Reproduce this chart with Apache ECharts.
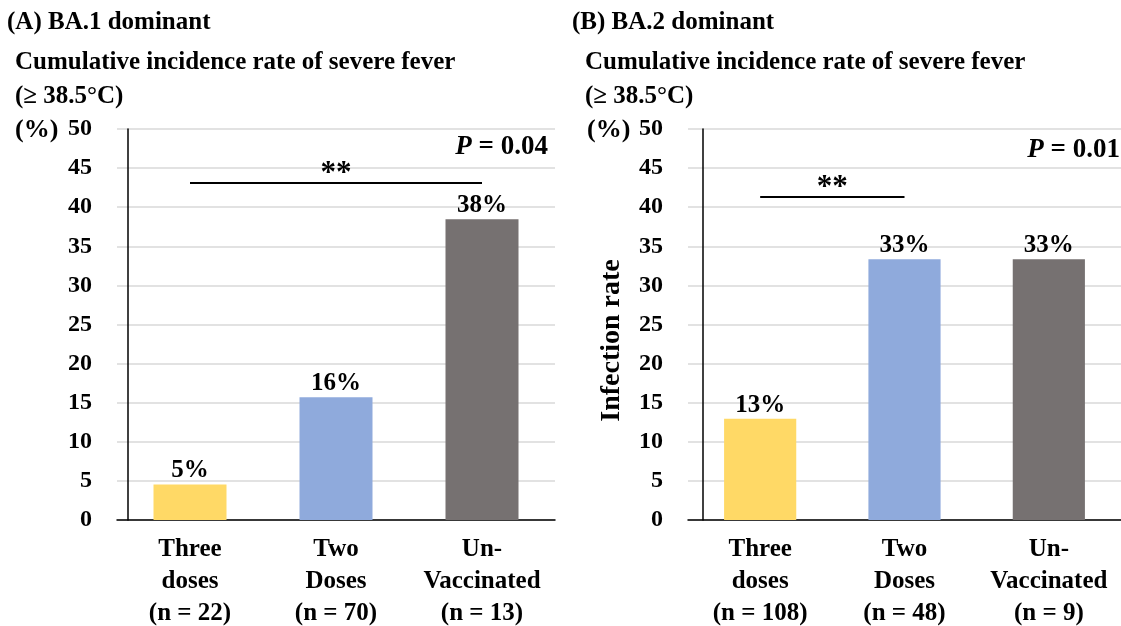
<!DOCTYPE html>
<html>
<head>
<meta charset="utf-8">
<script src="https://cdn.jsdelivr.net/npm/echarts@6/dist/echarts.min.js"></script>
<style>
  html, body { margin: 0; padding: 0; background: #fff; }
  #chart { width: 1121px; height: 626px; }
</style>
</head>
<body>
<div id="chart"></div>
<script>
// Severe fever incidence (%) by vaccination status, two Omicron periods
const categoriesA = ['Three\ndoses\n(n = 22)', 'Two\nDoses\n(n = 70)', 'Un-\nVaccinated\n(n = 13)'];
const categoriesB = ['Three\ndoses\n(n = 108)', 'Two\nDoses\n(n = 48)', 'Un-\nVaccinated\n(n = 9)'];
const valuesA = [4.55, 15.71, 38.46];
const valuesB = [12.96, 33.33, 33.33];
const barColors = ['#FFD966', '#8FAADC', '#767171'];
const yMin = 0, yMax = 50, yStep = 5;
// significance brackets: [from category, to category, height]
const sigA = [0, 2, 43.1];
const sigB = [0, 1, 41.4];
const pTextA = '0.04';
const pTextB = '0.01';

const FONT = '"Liberation Serif", "Times New Roman", serif';
const chart = echarts.init(document.getElementById('chart'), null, { renderer: 'canvas' });

function yAxes(gridIndex, lineOffset, name) {
  return [
    {
      gridIndex, type: 'value', position: 'left', min: yMin, max: yMax, interval: yStep,
      axisLine: { show: false }, axisTick: { show: false },
      axisLabel: { margin: 25, color: '#000', fontFamily: FONT, fontWeight: 'bold', fontSize: 24 },
      splitLine: { lineStyle: { color: '#D9D9D9', width: 1.5 } },
      name: name || '', nameLocation: 'middle', nameGap: 62,
      nameTextStyle: { color: '#000', fontFamily: FONT, fontWeight: 'bold', fontSize: 28, padding: [0, 32, 0, 0] }
    },
    {
      gridIndex, type: 'value', position: 'left', min: yMin, max: yMax, interval: yStep, offset: lineOffset,
      axisLine: { show: true, onZero: false, lineStyle: { color: '#000', width: 1.5 } },
      axisTick: { show: false }, axisLabel: { show: false }, splitLine: { show: false }
    }
  ];
}

function xAxis(gridIndex, cats) {
  return {
    gridIndex, type: 'category', data: cats,
    axisLine: { lineStyle: { color: '#000', width: 1.5 } },
    axisTick: { show: false },
    axisLabel: { margin: 14, color: '#000', fontFamily: FONT, fontWeight: 'bold', fontSize: 25, lineHeight: 32, interval: 0 }
  };
}

function barSeries(axisIdx, yIdx, values, sig) {
  return {
    type: 'bar', xAxisIndex: axisIdx, yAxisIndex: yIdx, barWidth: '50%',
    data: values.map((v, i) => ({ value: v, itemStyle: { color: barColors[i] } })),
    label: {
      show: true, position: 'top', distance: 1, color: '#000',
      fontFamily: FONT, fontWeight: 'bold', fontSize: 25,
      formatter: p => Math.round(p.value) + '%'
    },
    markLine: {
      silent: true, symbol: 'none',
      lineStyle: { color: '#000', width: 2, type: 'solid' },
      label: { show: true, position: 'middle', formatter: '**', distance: -7, color: '#000', fontFamily: FONT, fontWeight: 'bold', fontSize: 31 },
      data: [[{ coord: [sig[0], sig[2]] }, { coord: [sig[1], sig[2]] }]]
    }
  };
}

function text(x, y, str, extra) {
  return {
    type: 'text', x, y,
    style: Object.assign({
      text: str, fill: '#000', font: 'bold 25px ' + FONT,
      textVerticalAlign: 'middle', textAlign: 'left'
    }, extra || {})
  };
}

function pText(x, y, val) {
  return {
    type: 'text', x, y,
    style: {
      text: '{i|P} = ' + val, fill: '#000', font: 'bold 27px ' + FONT,
      textVerticalAlign: 'middle', textAlign: 'right',
      rich: { i: { fontStyle: 'italic', fontWeight: 'bold', fontSize: 27, fontFamily: FONT } }
    }
  };
}

chart.setOption({
  backgroundColor: '#fff',
  animation: false,
  grid: [
    { left: 117, right: 566, top: 129, bottom: 106, outerBoundsMode: 'none', containLabel: false },
    { left: 688, right: 0, top: 129, bottom: 106, outerBoundsMode: 'none', containLabel: false }
  ],
  xAxis: [xAxis(0, categoriesA), xAxis(1, categoriesB)],
  yAxis: [...yAxes(0, -11), ...yAxes(1, -15, 'Infection rate')],
  series: [barSeries(0, 0, valuesA, sigA), barSeries(1, 2, valuesB, sigB)],
  graphic: [
    text(7, 23, '(A) BA.1 dominant'),
    text(15, 63, 'Cumulative incidence rate of severe fever'),
    text(15, 97, '(≥ 38.5°C)'),
    text(15, 130, '(%)', { font: 'bold 26px ' + FONT }),
    text(572, 23, '(B) BA.2 dominant'),
    text(585, 63, 'Cumulative incidence rate of severe fever'),
    text(585, 97, '(≥ 38.5°C)'),
    text(587, 130, '(%)', { font: 'bold 26px ' + FONT }),
    pText(548, 147, pTextA),
    pText(1120, 150, pTextB)
  ]
});
</script>
</body>
</html>
